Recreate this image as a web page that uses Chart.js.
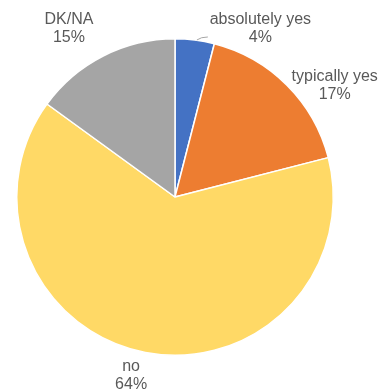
<!DOCTYPE html>
<html>
<head>
<meta charset="utf-8">
<script src="https://cdn.jsdelivr.net/npm/chart.js@4"></script>
<style>
  html,body{margin:0;padding:0;background:#fff;}
  canvas{display:block;}
</style>
</head>
<body>
<canvas id="pie" width="379" height="392"></canvas>
<script>
/* -------------------- Data -------------------- */
const labels = ['absolutely yes','typically yes','no','DK/NA'];
const shares = [4,17,64,15];
const colors = ['#4472C4','#ED7D31','#FFD966','#A5A5A5'];

/* label placement: angle (deg from top, clockwise) and distance from center */
const labelPlace = [
  {ang:26.9, dist:188.7},
  {ang:55, dist:195},
  {ang:193.8, dist:184},
  {ang:327.8, dist:199}
];

/* -------------------- Labels plugin -------------------- */
const outsideLabels = {
  id:'outsideLabels',
  afterDatasetsDraw(chart){
    const ctx=chart.ctx;
    const meta=chart.getDatasetMeta(0);
    const total=shares.reduce((a,b)=>a+b,0);
    ctx.save();
    ctx.font='16px "Liberation Sans", Arial, sans-serif';
    ctx.fillStyle='#595959';
    ctx.textAlign='center';
    ctx.textBaseline='middle';
    meta.data.forEach((arc,i)=>{
      const p=labelPlace[i];
      const a=(p.ang-90)*Math.PI/180;
      const x=arc.x+Math.cos(a)*p.dist;
      const y=arc.y+Math.sin(a)*p.dist;
      ctx.fillText(labels[i],x,y-9);
      ctx.fillText(Math.round(shares[i]/total*100)+'%',x,y+9);
      if(i===0){
        // small leader line from slice edge to label
        const mid=(arc.startAngle+arc.endAngle)/2;
        const ex=arc.x+Math.cos(mid)*arc.outerRadius;
        const ey=arc.y+Math.sin(mid)*arc.outerRadius;
        ctx.strokeStyle='#A6A6A6';
        ctx.lineWidth=1;
        ctx.beginPath();
        ctx.moveTo(ex+2,ey);
        ctx.quadraticCurveTo(ex+6,ey-3,ex+13,ey-3);
        ctx.stroke();
      }
    });
    ctx.restore();
  }
};

new Chart(document.getElementById('pie'),{
  type:'pie',
  data:{ labels, datasets:[{ data:shares, backgroundColor:colors, borderColor:'#ffffff', borderWidth:1.5 }] },
  options:{
    responsive:false,
    animation:false,
    layout:{ padding:{top:38,bottom:36,left:16,right:45} },
    plugins:{ legend:{display:false}, tooltip:{enabled:false} }
  },
  plugins:[outsideLabels]
});
</script>
</body>
</html>
